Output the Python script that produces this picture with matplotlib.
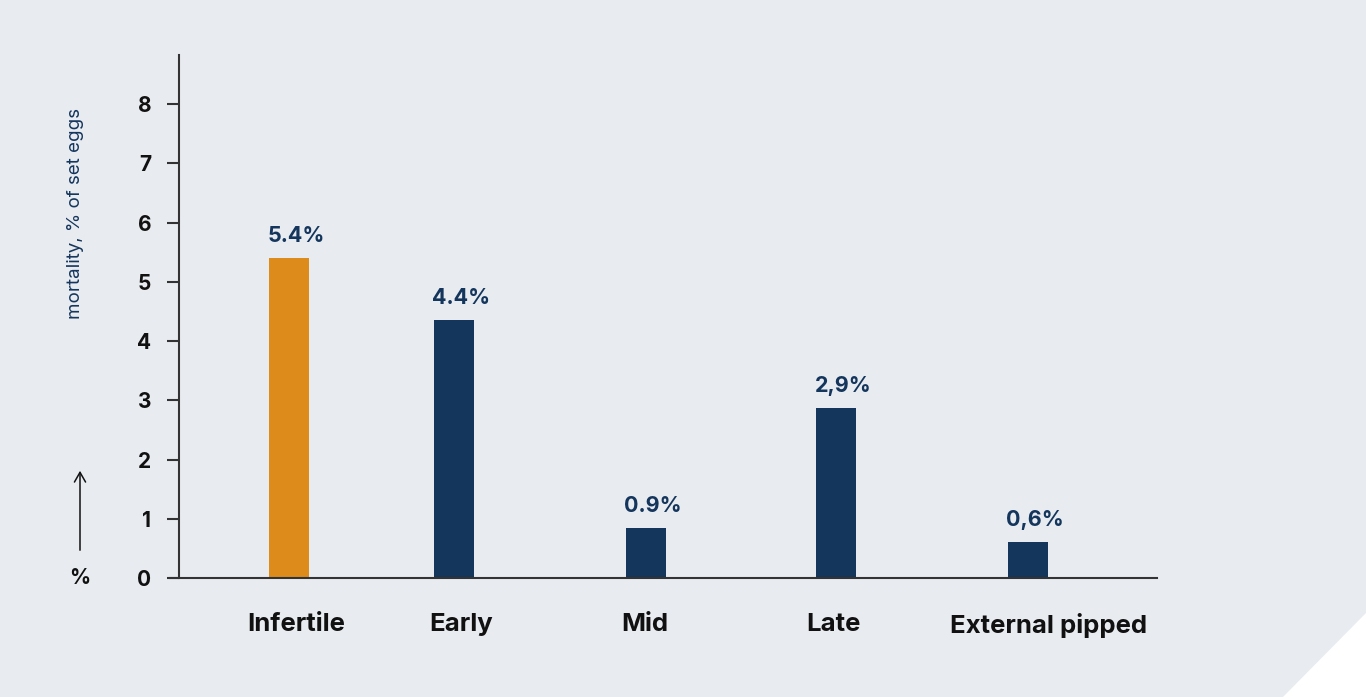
import matplotlib
matplotlib.use("Agg")
import matplotlib.pyplot as plt
from matplotlib.patches import Polygon, FancyArrowPatch
from matplotlib.transforms import ScaledTranslation

# ---- data ----
categories = ["Infertile", "Early", "Mid", "Late", "External pipped"]
values = [5.4, 4.35, 0.85, 2.87, 0.61]
value_labels = ["5.4%", "4.4%", "0.9%", "2,9%", "0,6%"]
yticks = [0, 1, 2, 3, 4, 5, 6, 7, 8]
ylabel = "mortality, % of set eggs"

# ---- layout (pixel-like x units inside axes) ----
x_pos = [119, 284, 476, 666, 858]
label_dx = [7, 7, -1, -3, 21]
bar_w = 40

BG = "#e8ebf0"
NAVY = "#14355c"
ORANGE = "#dd8b1b"
colors = [ORANGE] + [NAVY] * 4

plt.rcParams['font.family'] = ['Inter', 'DejaVu Sans']

W, H = 1366, 697
fig = plt.figure(figsize=(W / 100, H / 100), dpi=100, facecolor=BG)
ax = fig.add_axes([170 / W, 1 - 578 / H, (1157 - 170) / W, (578 - 55) / H])
ax.set_facecolor(BG)

ax.bar(x_pos, values, width=bar_w, color=colors, zorder=2)
for x, v, lab in zip(x_pos, values, value_labels):
    ax.annotate(lab, (x, v), xytext=(7, 12), textcoords="offset pixels",
                ha="center", va="bottom", fontsize=15.5, fontweight="bold",
                color=NAVY)

ax.set_xlim(0, 987)
ax.set_ylim(0, 8.83)

for s in ["top", "right"]:
    ax.spines[s].set_visible(False)
ax.spines["left"].set_position(("axes", 9 / 987))
for s in ["left", "bottom"]:
    ax.spines[s].set_color("#333333")
    ax.spines[s].set_linewidth(1.5)

ax.set_yticks(yticks)
ax.set_yticklabels([str(t) for t in yticks])
ax.tick_params(axis="y", length=9, width=1.5, color="#333333", pad=11,
               labelsize=15, labelcolor="#111111")
for t in ax.get_yticklabels():
    t.set_fontweight("bold")

ax.set_xticks(x_pos)
ax.set_xticklabels(categories)
ax.tick_params(axis="x", length=0, pad=25.5, labelsize=18.5, labelcolor="#111111")
for t, dx in zip(ax.get_xticklabels(), label_dx):
    t.set_fontweight("bold")
    t.set_transform(t.get_transform() + ScaledTranslation(dx / 100, 0, fig.dpi_scale_trans))

# y label
fig.text(75 / W, 1 - 213 / H, ylabel, rotation=90, ha="center", va="center",
         fontsize=13.5, color=NAVY)
# arrow and %
arr = FancyArrowPatch((80 / W, 1 - 553 / H), (80 / W, 1 - 468 / H),
                      transform=fig.transFigure, arrowstyle="->,head_length=7,head_width=4",
                      color="#111111", lw=1.1, mutation_scale=1)
fig.patches.append(arr)
fig.text(80 / W, 1 - 578 / H, "%", ha="center", va="center", fontsize=15,
         fontweight="bold", color="#111111")

# white corner triangle
tri = Polygon([(1366 / W, 1 - 613 / H), (1, 0), (1283 / W, 0)], closed=True,
              transform=fig.transFigure, facecolor="white", edgecolor="none")
fig.patches.append(tri)

fig.savefig("out.png", dpi=100, facecolor=BG)
